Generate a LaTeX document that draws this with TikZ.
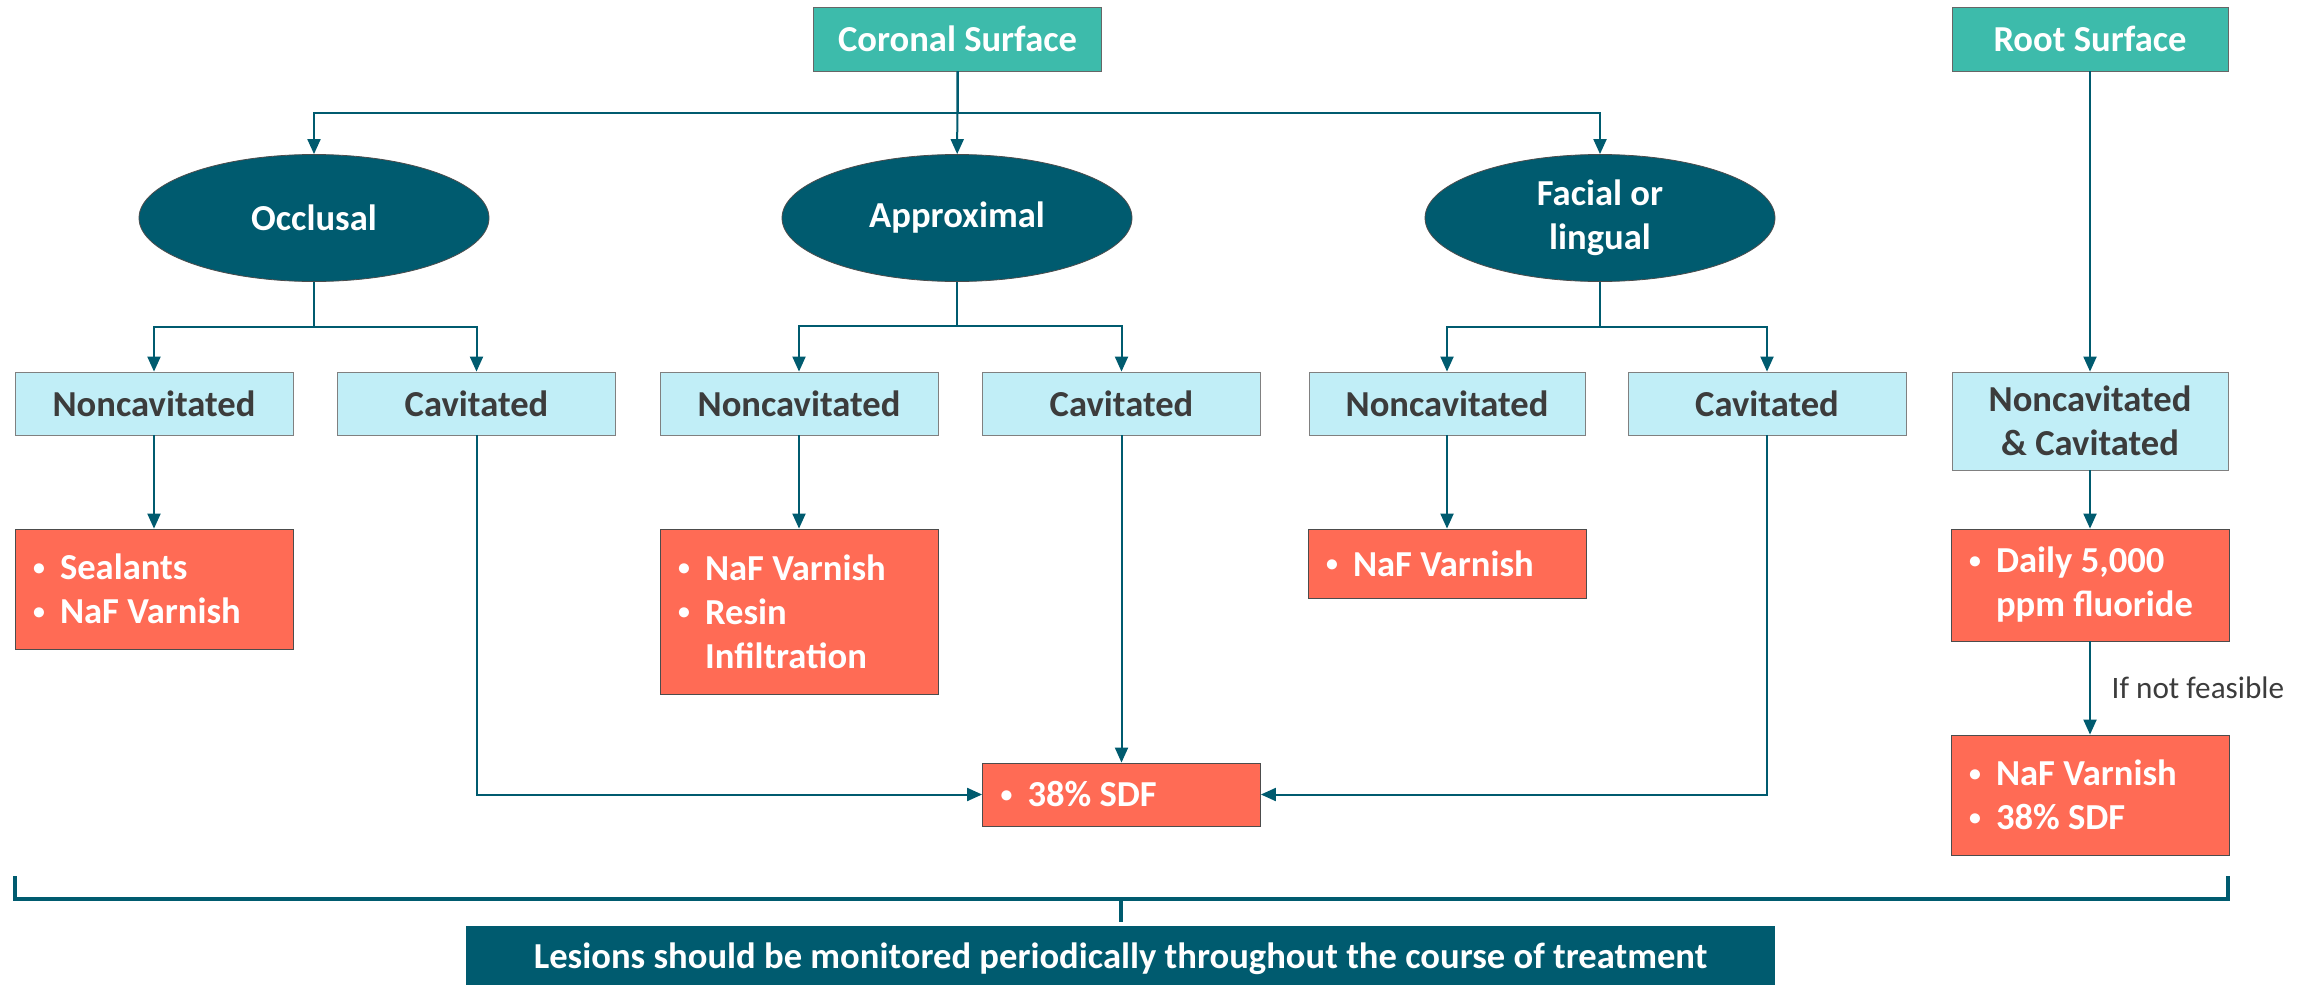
\documentclass[tikz,border=0pt]{standalone}
\usepackage{fontspec}
\setmainfont{Carlito}
\usepackage{xcolor}
\usepackage{tikz}
\usetikzlibrary{shapes.geometric, arrows.meta, positioning}

\definecolor{headteal}{HTML}{3DBBAB}
\definecolor{deepteal}{HTML}{005B6F}
\definecolor{paleblue}{HTML}{C1EEF7}
\definecolor{coral}{HTML}{FF6B55}
\definecolor{inkgray}{HTML}{3C3C3C}

\newcommand{\boxfont}{\fontsize{18.3pt}{22pt}\selectfont\bfseries}
\newcommand{\bul}{\makebox[13.5pt][l]{\raisebox{0.25ex}{\scalebox{0.65}{\textbullet}}}}
\newcommand{\hang}{\hspace*{13.5pt}}

\begin{document}
\begin{tikzpicture}[x=0.5pt, y=-0.5pt, every node/.style={font=\boxfont}]

\tikzstyle{surface} = [rectangle, minimum width=144pt, minimum height=32pt, inner sep=0pt, text centered, draw=gray!80!black, line width=0.4pt, fill=headteal, text=white]
\tikzstyle{site} = [ellipse, minimum width=175pt, minimum height=63.5pt, inner sep=0pt, align=center, draw=black!70, line width=0.4pt, fill=deepteal, text=white]
\tikzstyle{lesion} = [rectangle, minimum width=139pt, minimum height=31.5pt, inner sep=0pt, align=center, draw=gray, line width=0.4pt, fill=paleblue, text=inkgray]
\tikzstyle{therapy} = [rectangle, minimum width=139pt, inner xsep=9pt, inner ysep=0pt, text width=121pt, align=flush left, draw=gray!60!black, line width=0.4pt, fill=coral, text=white]
\tikzstyle{arrow} = [line width=1pt, draw=deepteal, -{Triangle[length=7.5pt, width=6.5pt]}]
\tikzstyle{bracket} = [line width=2pt, draw=deepteal]

\useasboundingbox (0,0) rectangle (2313,985);
\clip (0,0) rectangle (2313,985);

% Surfaces
\node (coronal) [surface] at (957.5,39) {Coronal Surface};
\node (root) [surface, minimum width=138pt] at (2090,39) {Root Surface};

% Sites
\node (occlusal) [site] at (314,218) {Occlusal};
\node (approx) [site] at (957,218) {Approximal};
\node (facial) [site] at (1600,218) {Facial or\\lingual};

% Lesion types
\node (occnon) [lesion] at (154,403.5) {Noncavitated};
\node (occcav) [lesion] at (476.5,403.5) {Cavitated};
\node (appnon) [lesion] at (799,403.5) {Noncavitated};
\node (appcav) [lesion] at (1121.5,403.5) {Cavitated};
\node (facnon) [lesion, minimum width=138pt] at (1447,403.5) {Noncavitated};
\node (faccav) [lesion] at (1767,403.5) {Cavitated};
\node (rootles) [lesion, minimum width=138pt, minimum height=49pt] at (2090,421) {Noncavitated\\\& Cavitated};

% Treatments
\node (occtx) [therapy, minimum height=60pt] at (154,589) {\bul Sealants\\\bul NaF Varnish};
\node (apptx) [therapy, minimum height=82.5pt] at (799,611.5) {\bul NaF Varnish\\\bul Resin\\\hang Infiltration};
\node (factx) [therapy, minimum width=138pt, minimum height=34.5pt] at (1447,563.5) {\bul NaF Varnish};
\node (sdf) [therapy, minimum height=31.5pt] at (1121.5,794.5) {\bul 38\% SDF};
\node (daily) [therapy, minimum width=138pt, minimum height=56pt] at (2090,585) {\bul Daily 5,000\\\hang ppm fluoride};
\node (altx) [therapy, minimum width=138pt, minimum height=60pt] at (2090,795) {\bul NaF Varnish\\\bul 38\% SDF};

% Banner
\node (banner) [rectangle, minimum width=654.5pt, minimum height=33pt, inner sep=0pt, fill=deepteal, text=white] at (1120.5,959) {Lesions should be monitored periodically throughout the course of treatment};

% Arrows
\draw [arrow] (coronal) -- (approx);
\draw [arrow] (coronal.south) -- ++(0,42) -| (occlusal.north);
\draw [arrow] (coronal.south) -- ++(0,42) -| (facial.north);
\draw [arrow] (occlusal.south) -- ++(0,45) -| (occnon.north);
\draw [arrow] (occlusal.south) -- ++(0,45) -| (occcav.north);
\draw [arrow] (approx.south) -- ++(0,44) -| (appnon.north);
\draw [arrow] (approx.south) -- ++(0,44) -| (appcav.north);
\draw [arrow] (facial.south) -- ++(0,45) -| (facnon.north);
\draw [arrow] (facial.south) -- ++(0,45) -| (faccav.north);
\draw [arrow] (root) -- (rootles);
\draw [arrow] (occnon) -- (occtx);
\draw [arrow] (appnon) -- (apptx);
\draw [arrow] (facnon) -- (factx);
\draw [arrow] (rootles) -- (daily);
\draw [arrow] (daily) -- node[midway, right=7pt, font=\fontsize{15.6pt}{18pt}\selectfont, text=inkgray] {If not feasible} (altx);
\draw [arrow] (occcav.south) |- (sdf.west);
\draw [arrow] (appcav) -- (sdf);
\draw [arrow] (faccav.south) |- (sdf.east);

% Bracket
\coordinate (brL) at (15,876);
\coordinate (brR) at (2228,876);
\draw [bracket] (brL) -- ++(0,23) -| (brR);
\draw [bracket] ([yshift=2pt]banner.north) -- ++(0,-23);

\end{tikzpicture}
\end{document}
